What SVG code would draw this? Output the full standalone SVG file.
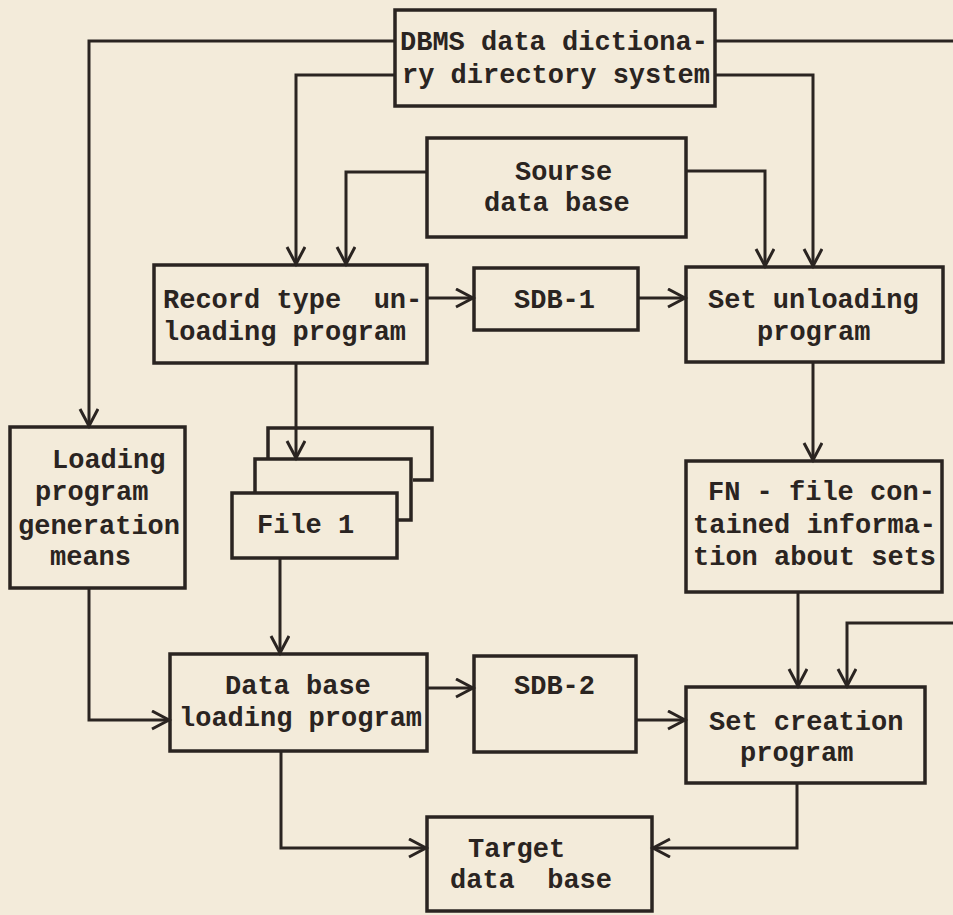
<svg xmlns="http://www.w3.org/2000/svg" width="953" height="915" viewBox="0 0 953 915">
<defs>
<style>
.box{fill:none;stroke:#2a2421;stroke-width:3.5;stroke-linejoin:miter}
.page{fill:none;stroke:#2a2421;stroke-width:3.5}
.conn{fill:none;stroke:#2a2421;stroke-width:3}
text{font-family:"Liberation Mono","Courier New",monospace;font-size:27px;font-weight:bold;fill:#2a2421}
</style>
<marker id="arr" markerUnits="userSpaceOnUse" markerWidth="22" markerHeight="22" refX="18" refY="10" orient="auto" viewBox="0 0 22 22">
<path d="M1,1 L18,10 L1,19" fill="none" stroke="#2a2421" stroke-width="3"/>
</marker>
</defs>
<rect x="0" y="0" width="953" height="915" fill="#f3ebda"/>

<g id="connectors">
<path class="conn" d="M395,41 H89 V426" marker-end="url(#arr)"/>
<path class="conn" d="M395,75 H296 V264" marker-end="url(#arr)"/>
<path class="conn" d="M715,75 H813 V266" marker-end="url(#arr)"/>
<path class="conn" d="M715,41 H962 V623 H847 V686" marker-end="url(#arr)"/>
<path class="conn" d="M427,172 H346 V264" marker-end="url(#arr)"/>
<path class="conn" d="M686,171 H765 V266" marker-end="url(#arr)"/>
<path class="conn" d="M427,298 H473" marker-end="url(#arr)"/>
<path class="conn" d="M638,298 H685" marker-end="url(#arr)"/>
<path class="conn" d="M296,363 V458" marker-end="url(#arr)"/>
<path class="conn" d="M813,362 V460" marker-end="url(#arr)"/>
<path class="conn" d="M280,558 V653" marker-end="url(#arr)"/>
<path class="conn" d="M89,588 V720 H169" marker-end="url(#arr)"/>
<path class="conn" d="M798,592 V686" marker-end="url(#arr)"/>
<path class="conn" d="M427,688 H473" marker-end="url(#arr)"/>
<path class="conn" d="M636,720 H685" marker-end="url(#arr)"/>
<path class="conn" d="M281,751 V848 H426" marker-end="url(#arr)"/>
<path class="conn" d="M797,783 V848 H653" marker-end="url(#arr)"/>
</g>

<g id="dbms">
<rect class="box" x="395" y="10" width="320" height="96"/>
<text x="400" y="50">DBMS data dictiona-</text>
<text x="402" y="83">ry directory system</text>
</g>

<g id="source-db">
<rect class="box" x="427" y="138" width="259" height="99"/>
<text x="515" y="180">Sourse</text>
<text x="484" y="211">data base</text>
</g>

<g id="record-unloading">
<rect class="box" x="154" y="265" width="273" height="98"/>
<text x="163" y="308" xml:space="preserve">Record type  un-</text>
<text x="163" y="340">loading program</text>
</g>

<g id="sdb1">
<rect class="box" x="474" y="268" width="164" height="62"/>
<text x="514" y="308">SDB-1</text>
</g>

<g id="set-unloading">
<rect class="box" x="686" y="267" width="257" height="95"/>
<text x="708" y="308">Set unloading</text>
<text x="757" y="340">program</text>
</g>

<g id="loading-gen">
<rect class="box" x="10" y="427" width="175" height="161"/>
<text x="52" y="468">Loading</text>
<text x="35" y="500">program</text>
<text x="18" y="534">generation</text>
<text x="50" y="565">means</text>
</g>

<g id="file1">
<path class="page" d="M268,459 V428 H432 V480 H413"/>
<path class="page" d="M255,493 V459 H411 V520 H397"/>
<rect class="box" x="232" y="493" width="165" height="65"/>
<text x="257" y="533">File 1</text>
</g>

<g id="fn-file">
<rect class="box" x="686" y="461" width="256" height="131"/>
<text x="708" y="500">FN - file con-</text>
<text x="693" y="533">tained informa-</text>
<text x="693" y="565">tion about sets</text>
</g>

<g id="db-loading">
<rect class="box" x="170" y="654" width="257" height="97"/>
<text x="225" y="694">Data base</text>
<text x="179" y="726">loading program</text>
</g>

<g id="sdb2">
<rect class="box" x="474" y="656" width="162" height="96"/>
<text x="514" y="694">SDB-2</text>
</g>

<g id="set-creation">
<rect class="box" x="686" y="687" width="239" height="96"/>
<text x="709" y="730">Set creation</text>
<text x="740" y="761">program</text>
</g>

<g id="target-db">
<rect class="box" x="427" y="817" width="225" height="94"/>
<text x="468" y="857">Target</text>
<text x="450" y="888" xml:space="preserve">data  base</text>
</g>
</svg>
